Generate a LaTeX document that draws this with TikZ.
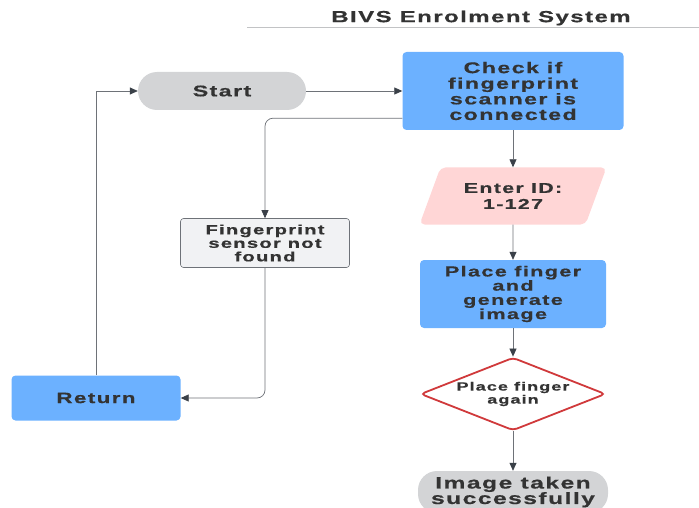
\documentclass[tikz,border=0pt]{standalone}
\usepackage{fontspec}
\setmainfont{Liberation Sans}[FakeStretch=1.5,LetterSpace=9,BoldFeatures={FakeStretch=1.5,LetterSpace=9,FakeBold=0.6}]
\usepackage{xcolor}
\usetikzlibrary{arrows.meta,shapes.geometric}

\definecolor{boxblue}{RGB}{108,177,255}
\definecolor{termgray}{RGB}{211,212,214}
\definecolor{iopink}{RGB}{255,214,214}
\definecolor{notegray}{RGB}{241,242,244}
\definecolor{decred}{RGB}{208,57,59}
\definecolor{linegray}{RGB}{110,114,120}
\definecolor{tipgray}{RGB}{58,64,72}
\definecolor{textgray}{RGB}{51,51,51}

\newcommand{\fsz}[2]{\bfseries\fontsize{#1}{#2}\selectfont}

\begin{document}
\begin{tikzpicture}[x=1pt,y=-1pt,
  every node/.style={text=textgray,align=center},
  process/.style={fill=boxblue,rounded corners=4pt,inner sep=2pt},
  terminal/.style={fill=termgray,rounded corners=19pt},
  inout/.style={trapezium,trapezium left angle=65,trapezium right angle=115,trapezium stretches=true,fill=iopink,rounded corners=5pt},
  note/.style={draw=linegray,fill=notegray,rounded corners=3pt,line width=0.6pt},
  decision/.style={diamond,shape aspect=2.5,draw=decred,line width=1.8pt,fill=white,rounded corners=4pt,inner sep=0pt},
  conn/.style={draw=linegray,line width=0.7pt,-{Triangle[length=8pt,width=7pt,color=tipgray]}}]
\useasboundingbox (0,0) rectangle (699,508);
\clip (0,0) rectangle (699,508);
% title
\node[font=\fsz{16}{18}] (title) at (481,18) {BIVS Enrolment System};
\draw[draw=termgray!80!gray,line width=0.8pt](247,27)--(699,27);
% left side
\node[terminal,minimum width=168pt,minimum height=38pt,font=\fsz{15.5}{17}] (start) at (222,91) {Start};
\node[note,minimum width=169pt,minimum height=49pt,font=\fsz{13.5}{13.5}] (finger) at (265,243) {Fingerprint\\sensor not\\found};
\node[process,minimum width=169pt,minimum height=45pt,font=\fsz{15}{17}] (ret) at (96,398) {Return};
% right column
\node[process,minimum width=221pt,minimum height=78pt,font=\fsz{15.5}{15.6}] (check) at (513,91) {Check if\\fingerprint\\scanner is\\connected};
\node[inout,minimum width=187pt,minimum height=57pt,font=\fsz{14.3}{16}] (enter) at (513,196) {Enter ID:\\1-127};
\node[process,minimum width=186pt,minimum height=68pt,font=\fsz{14.5}{14.2}] (place) at (513,294) {Place finger\\and\\generate\\image};
\node[decision,minimum width=185pt,minimum height=73pt,font=\fsz{12}{13}] (again) at (513,394) {Place finger\\again};
\node[terminal,minimum width=190pt,minimum height=42pt,font=\fsz{16.4}{15.5}] (taken) at (513,492) {Image taken\\successfully};
% connectors
\draw[conn](start)--(check);
\draw[conn,rounded corners=8pt]([yshift=12pt]check.south west)-|(finger.north);
\draw[conn,rounded corners=8pt](finger.south)|-(ret.east);
\draw[conn](ret.north)|-(start.west);
\draw[conn](check)--(enter);
\draw[conn](enter)--(place);
\draw[conn](place)--(again);
\draw[conn](again)--(taken);
\end{tikzpicture}
\end{document}
